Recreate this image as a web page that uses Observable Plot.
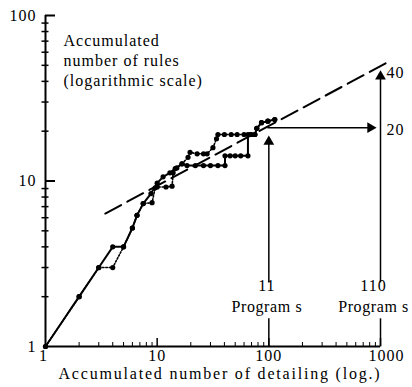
<!DOCTYPE html>
<html><head><meta charset="utf-8">
<script src="https://cdn.jsdelivr.net/npm/d3@7"></script>
<script src="https://cdn.jsdelivr.net/npm/@observablehq/plot@0.6"></script>
<style>
body{margin:0;background:#fff}
svg text{letter-spacing:1px}
</style>
</head><body><div id="chart"></div><script>
// solid series (accumulated detailing vs accumulated rules)
const solidX = [1,2,3,4,5,6,6.6,7.5,8.8,10,11.3,13,14.5,16.7,18.5,22,26,30,35,40.5,40.5,45,50,56,65,65,70,75,78,86,98,113];
const solidY = [1,2,3,4,4,5.2,6.2,7.3,8.4,9.7,10.6,11.2,11.9,12.7,12.4,12.4,12.4,12.4,12.4,12.4,14.2,14.2,14.2,14.2,14.2,19.1,19.1,19.1,20.8,22.5,23,23.5];
// dotted series
const dotX = [1,2,3,4,5,6,6.6,7.5,9,9.6,10,12,13.6,13.9,15,16.7,18.9,19.7,22.8,26,28,31.6,34,35,40,46,52,60,68,75,78,86,98,113];
const dotY = [1,2,3,3,4,5.2,6.2,7.3,7.4,9.1,9.2,9.2,9.3,11.2,12,12.7,13.9,14.9,14.6,14.6,14.6,15.9,18,19.1,19.1,19.1,19.1,19.1,19.1,19.1,20.8,22.5,23,23.5];
// dashed trend line
const trendX = [3.43, 1150];
const trendY = [6.36, 52];
// arrows
const arrowX1 = [100,100,1000,1000,97];
const arrowY1 = [1,2.44,1,2.44,21];
const arrowX2 = [100,100,1000,1000,812];
const arrowY2 = [1.48,17.3,1.48,42.8,21];
const headX = [100,1000,812];
const headY = [17.3,42.8,21];
const headRotate = [0,0,90];
// ticks
const xMajor = [10,100,1000];
const xMinor = [2,3,4,5,6,7,8,9,20,30,40,50,60,70,80,90,200,300,400,500,600,700,800,900];
const yMajor = [10,100];
const yMinor = [2,3,4,5,6,7,8,9,20,30,40,50,60,70,80,90];
const xTickLabels = ["1","10","100","1000"];
const xTickVals = [1,10,100,1000];
const yTickLabels = ["1","10","100"];
const yTickVals = [1,10,100];
// annotations
const progX = [100,1000];
const progCount = ["11","110"];
const progWord = ["Program s","Program s"];
const rightLabels = ["40","20"];
const rightLabelY = [45,20.5];
const yTitle = "Accumulated\nnumber of rules\n(logarithmic scale)";
const xTitle = "Accumulated number of detailing (log.)";

const solid = solidX.map((x,i)=>({x, y: solidY[i]}));
const dotted = dotX.map((x,i)=>({x, y: dotY[i]}));
const trend = trendX.map((x,i)=>({x, y: trendY[i]}));
const arrows = arrowX1.map((x1,i)=>({x1, y1: arrowY1[i], x2: arrowX2[i], y2: arrowY2[i]}));
const heads = headX.map((x,i)=>({x, y: headY[i], r: headRotate[i]}));
const xLab = xTickLabels.map((t,i)=>({t, v: xTickVals[i]}));
const yLab = yTickLabels.map((t,i)=>({t, v: yTickVals[i]}));
const prog = progX.map((x,i)=>({x, c: progCount[i], w: progWord[i]}));

const chart = Plot.plot({
  width: 412, height: 387,
  marginLeft: 45, marginRight: 32, marginTop: 15, marginBottom: 41,
  x: {type: "log", domain: [1,1000], axis: null},
  y: {type: "log", domain: [1,100], axis: null},
  style: {fontFamily: "'Liberation Serif','Times New Roman',serif", fontSize: "16px", background: "white", color: "black"},
  marks: [
    // axes
    Plot.ruleX([1], {y1: 1, y2: 100, stroke: "black", strokeWidth: 2}),
    Plot.ruleY([1], {x1: 1, x2: 1000, stroke: "black", strokeWidth: 2}),
    Plot.ruleX(xMinor, {x: d=>d, y1: 1, y2: 1, insetTop: -4, stroke: "black", strokeWidth: 1}),
    Plot.ruleX(xMajor, {x: d=>d, y1: 1, y2: 1, insetTop: -8, stroke: "black", strokeWidth: 1.5}),
    Plot.ruleY(yMinor, {y: d=>d, x1: 1, x2: 1, insetLeft: -3.5, insetRight: -3.5, stroke: "black", strokeWidth: 1.5}),
    Plot.ruleY(yMajor, {y: d=>d, x1: 1, x2: 1, insetRight: -10, stroke: "black", strokeWidth: 2}),
    Plot.text(xLab.slice(0,1), {x: "v", text: "t", frameAnchor: "bottom", dy: 14, dx: -2, fontSize: 16}),
    Plot.text(xLab.slice(1,3), {x: "v", text: "t", frameAnchor: "bottom", dy: 14, fontSize: 16}),
    Plot.text(xLab.slice(3), {x: "v", text: "t", frameAnchor: "bottom", dy: 14, dx: 6, fontSize: 16}),
    Plot.text(yLab, {y: "v", text: "t", frameAnchor: "left", dx: -9, textAnchor: "end", fontSize: 16}),
    Plot.text([xTitle], {frameAnchor: "bottom", dy: 32, dx: 7, fontSize: 16}),
    Plot.text([yTitle], {frameAnchor: "top-left", dx: 18, dy: 16, lineAnchor: "top", textAnchor: "start", lineHeight: 1.25, fontSize: 16}),
    // trend
    Plot.line(trend, {x: "x", y: "y", stroke: "black", strokeWidth: 2, strokeDasharray: "18,7"}),
    // series
    Plot.line(dotted, {x: "x", y: "y", stroke: "black", strokeWidth: 1.6, strokeDasharray: "1.5,1.8"}),
    Plot.dot(dotted, {x: "x", y: "y", r: 2.6, fill: "black"}),
    Plot.line(solid, {x: "x", y: "y", stroke: "black", strokeWidth: 2}),
    Plot.dot(solid, {x: "x", y: "y", r: 2.6, fill: "black"}),
    // arrows
    Plot.link(arrows, {x1: "x1", y1: "y1", x2: "x2", y2: "y2", stroke: "black", strokeWidth: 1.5}),
    Plot.dot(heads, {x: "x", y: "y", symbol: "triangle", r: 4, fill: "black", stroke: "none", rotate: "r"}),
    Plot.text(prog.slice(0,1), {x: "x", text: "c", frameAnchor: "bottom", dy: -56, dx: -2, fontSize: 16}),
    Plot.text(prog.slice(0,1), {x: "x", text: "w", frameAnchor: "bottom", dy: -35, dx: -2, fontSize: 16}),
    Plot.text(prog.slice(1), {x: "x", text: "c", frameAnchor: "bottom", dy: -56, dx: -7, fontSize: 16}),
    Plot.text(prog.slice(1), {x: "x", text: "w", frameAnchor: "bottom", dy: -35, dx: -7, fontSize: 16}),
    Plot.text(rightLabels, {x: 1000, y: (d,i)=>rightLabelY[i], text: d=>d, dx: 6, textAnchor: "start", fontSize: 16})
  ]
});
d3.select(chart).selectAll("text").filter(function(){ return this.textContent === xTitle; }).style("letter-spacing", "1.8px");
d3.select(chart).selectAll("text").filter(function(){ return this.textContent === "Program s"; }).style("letter-spacing", "0.6px");
document.getElementById("chart").appendChild(chart);
</script></body></html>
